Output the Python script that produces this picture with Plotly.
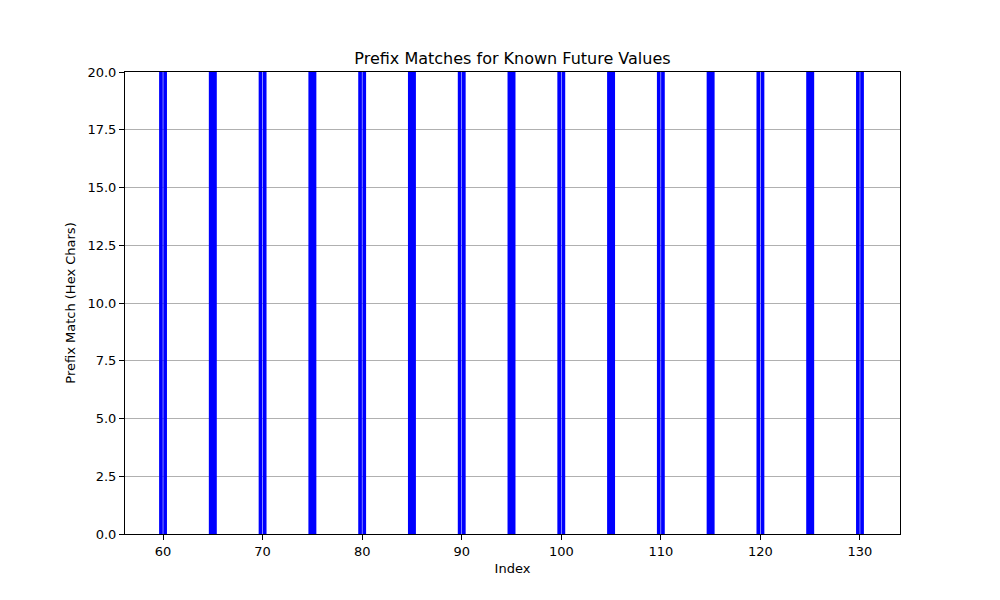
import plotly.graph_objects as go

# known-future indices that matched; tens positions show as two adjacent bars
single_idx = [65, 75, 85, 95, 105, 115, 125]
single_match = [20, 20, 20, 20, 20, 20, 20]
split_left_idx = [59.79, 69.79, 79.79, 89.79, 99.79, 109.79, 119.79, 129.79]
split_right_idx = [60.21, 70.21, 80.21, 90.21, 100.21, 110.21, 120.21, 130.21]
split_match = [20, 20, 20, 20, 20, 20, 20, 20]

y_ticks = [0, 2.5, 5, 7.5, 10, 12.5, 15, 17.5, 20]
x_ticks = [60, 70, 80, 90, 100, 110, 120, 130]

fig = go.Figure()
fig.add_trace(go.Bar(x=single_idx, y=single_match, width=0.8,
                     marker=dict(color="#0000ff", line=dict(width=0))))
fig.add_trace(go.Bar(x=split_left_idx, y=split_match, width=0.37,
                     marker=dict(color="#0000ff", line=dict(width=0))))
fig.add_trace(go.Bar(x=split_right_idx, y=split_match, width=0.37,
                     marker=dict(color="#0000ff", line=dict(width=0))))

# page body adds an 8px offset, so margins are shifted to compensate
fig.update_layout(
    width=1000, height=600,
    margin=dict(l=117, r=108, t=64, b=74),
    paper_bgcolor="white", plot_bgcolor="white",
    showlegend=False, barmode="overlay",
    font=dict(family="DejaVu Sans", size=13, color="black"),
    title=dict(text="Prefix Matches for Known Future Values", xref="paper", x=0.5,
               xanchor="center", y=0.9167, yanchor="middle", font=dict(size=16)),
)
fig.update_xaxes(
    range=[56.18, 134.02], tickvals=x_ticks, showgrid=False, automargin=False,
    showline=True, linecolor="black", linewidth=1, mirror=True,
    ticks="outside", ticklen=5, tickcolor="black", tickfont=dict(size=13),
    title=dict(text="Index", standoff=6, font=dict(size=13)), zeroline=False,
)
fig.update_yaxes(
    range=[0, 20], tickvals=y_ticks, tickformat=".1f", automargin=False,
    showgrid=True, gridcolor="#b0b0b0", gridwidth=1, layer="above traces",
    showline=True, linecolor="black", linewidth=1, mirror=True,
    ticks="outside", ticklen=5, tickcolor="black", tickfont=dict(size=13),
    title=dict(text="Prefix Match (Hex Chars)", standoff=8, font=dict(size=13)),
    zeroline=False,
)

fig.write_html("out.html")
